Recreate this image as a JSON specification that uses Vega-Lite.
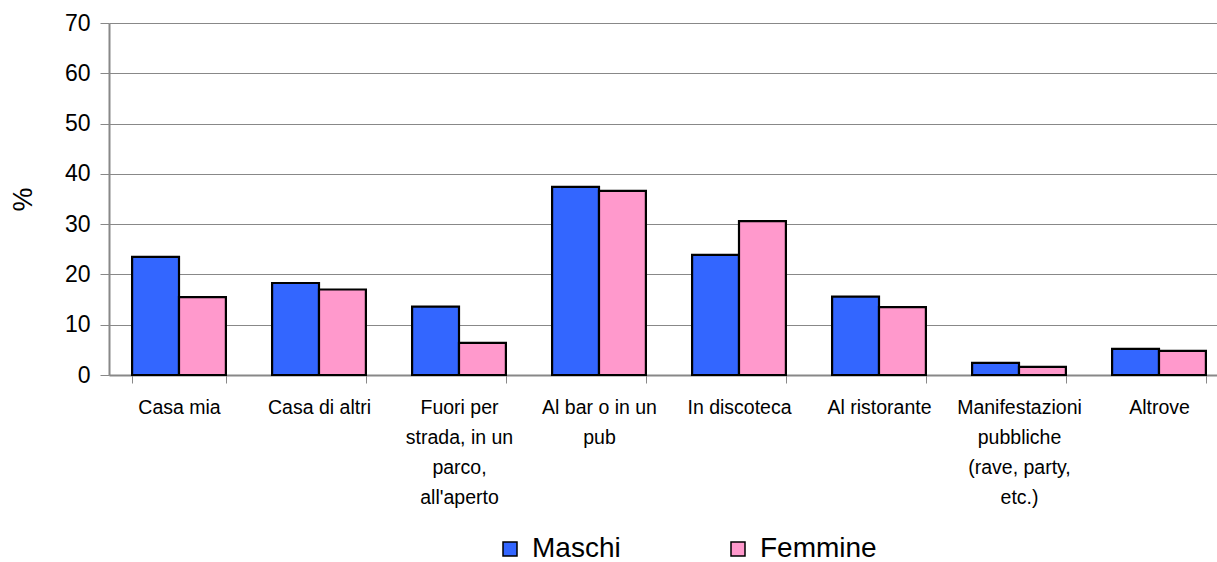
{
  "$schema": "https://vega.github.io/schema/vega-lite/v6.json",
  "width": 1108,
  "height": 352,
  "autosize": {"type": "none"},
  "padding": {"left": 109, "top": 23, "right": 0, "bottom": 187},
  "background": "white",
  "config": {
    "font": "Liberation Sans",
    "view": {"stroke": null}
  },
  "data": {
    "values": [
      {"luogo": "Casa mia", "sesso": "Maschi", "valore": 23.5},
      {"luogo": "Casa mia", "sesso": "Femmine", "valore": 15.5},
      {"luogo": "Casa di altri", "sesso": "Maschi", "valore": 18.3},
      {"luogo": "Casa di altri", "sesso": "Femmine", "valore": 17.0},
      {"luogo": "Fuori per\nstrada, in un\nparco,\nall'aperto", "sesso": "Maschi", "valore": 13.6},
      {"luogo": "Fuori per\nstrada, in un\nparco,\nall'aperto", "sesso": "Femmine", "valore": 6.4},
      {"luogo": "Al bar o in un\npub", "sesso": "Maschi", "valore": 37.4},
      {"luogo": "Al bar o in un\npub", "sesso": "Femmine", "valore": 36.6},
      {"luogo": "In discoteca", "sesso": "Maschi", "valore": 23.9},
      {"luogo": "In discoteca", "sesso": "Femmine", "valore": 30.6},
      {"luogo": "Al ristorante", "sesso": "Maschi", "valore": 15.6},
      {"luogo": "Al ristorante", "sesso": "Femmine", "valore": 13.5},
      {"luogo": "Manifestazioni\npubbliche\n(rave, party,\netc.)", "sesso": "Maschi", "valore": 2.4},
      {"luogo": "Manifestazioni\npubbliche\n(rave, party,\netc.)", "sesso": "Femmine", "valore": 1.6},
      {"luogo": "Altrove", "sesso": "Maschi", "valore": 5.2},
      {"luogo": "Altrove", "sesso": "Femmine", "valore": 4.8}
    ]
  },
  "mark": {"type": "bar", "stroke": "black", "strokeWidth": 2.2},
  "encoding": {
    "x": {
      "field": "luogo",
      "type": "nominal",
      "sort": null,
      "scale": {"range": [0, 1120], "paddingInner": 0.33, "paddingOuter": 0.165},
      "axis": {
        "title": null,
        "labelAngle": 0,
        "labelExpr": "datum.value ? split(datum.value, '\\n') : ''",
        "labelFont": "Liberation Sans",
        "labelFontSize": 19.5,
        "labelLineHeight": 30,
        "labelColor": "black",
        "labelPadding": 15,
        "labelBaseline": "top",
        "labelLimit": 0,
        "tickBand": "extent",
        "tickSize": 8,
        "tickColor": "#888888",
        "domainColor": "#888888",
        "domainWidth": 2,
        "grid": false
      }
    },
    "xOffset": {"field": "sesso", "type": "nominal", "sort": ["Maschi", "Femmine"]},
    "y": {
      "field": "valore",
      "type": "quantitative",
      "scale": {"domain": [0, 70], "nice": false},
      "axis": {
        "title": "%",
        "titleFont": "Liberation Sans",
        "titleFontSize": 27,
        "titleFontWeight": "normal",
        "titleColor": "black",
        "titlePadding": 27,
        "values": [0, 10, 20, 30, 40, 50, 60, 70],
        "labelFont": "Liberation Sans",
        "labelFontSize": 23,
        "labelColor": "black",
        "labelPadding": 10,
        "tickSize": 9,
        "tickColor": "#888888",
        "domainColor": "#888888",
        "domainWidth": 2,
        "gridColor": "#888888",
        "gridWidth": 1.2
      }
    },
    "color": {
      "field": "sesso",
      "type": "nominal",
      "sort": ["Maschi", "Femmine"],
      "scale": {"domain": ["Maschi", "Femmine"], "range": ["#3366FF", "#FF99CC"]},
      "legend": {
        "title": null,
        "orient": "none",
        "direction": "horizontal",
        "legendX": 387,
        "legendY": 512,
        "symbolType": "square",
        "symbolSize": 196,
        "symbolStrokeColor": "black",
        "symbolStrokeWidth": 1.5,
        "labelFont": "Liberation Sans",
        "labelFontSize": 28,
        "labelColor": "black",
        "labelOffset": 8,
        "columnPadding": 103,
        "labelLimit": 0
      }
    }
  }
}
